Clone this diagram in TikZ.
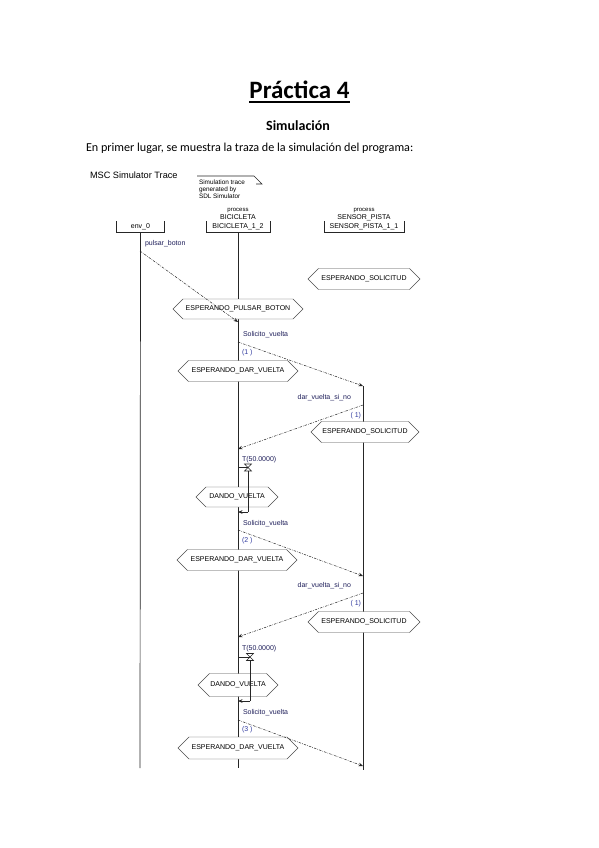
\documentclass[tikz,border=0pt]{standalone}
\usepackage{fontspec}
\setmainfont{Carlito}
\newfontfamily\mscfont{Liberation Sans}
\usetikzlibrary{arrows.meta,shapes.symbols}
\definecolor{lblcol}{RGB}{30,30,90}
\definecolor{seqcol}{RGB}{50,60,160}
\begin{document}
\begin{tikzpicture}[x=1pt,y=-1pt,
  every node/.style={inner sep=0pt,outer sep=0pt},
  mtxt/.style={font=\mscfont\fontsize{7}{8}\selectfont},
  lbl/.style={mtxt,text=lblcol},
  seq/.style={mtxt,text=seqcol},
  life/.style={line width=0.7pt,draw=black!85},
  hdr/.style={line width=0.7pt,draw=black!85},
  msg/.style={line width=0.5pt,draw=black!85,dash pattern=on 2.4pt off 1.2pt on 0.6pt off 1.2pt,-{Stealth[length=4.5pt,width=3.6pt]}},
  tmr/.style={line width=0.6pt,draw=black!85},
  tmrarrow/.style={line width=0.6pt,draw=black!85,-{Stealth[length=4.5pt,width=3.6pt]}},
  statebox/.style={signal,signal to=west and east,signal pointer angle=90,draw=black!70,line width=0.45pt,fill=white,mtxt,minimum height=21pt},
  hbox/.style={mtxt,minimum height=11pt}
]
\useasboundingbox[fill=white] (0,0) rectangle (599,848);

% ---------- document text ----------
\node[anchor=base,font=\bfseries\fontsize{25}{30}\selectfont] (title) at (299.5,99) {Práctica 4};
\draw[line width=1.6pt] ([yshift=-3pt]title.base west) -- ([yshift=-3pt]title.base east);
\node[anchor=base,font=\bfseries\fontsize{14}{17}\selectfont] (sub) at (298,131) {Simulación};
\node[anchor=base west,font=\fontsize{12.15}{15}\selectfont] (intro) at (86,151.5) {En primer lugar, se muestra la traza de la simulación del programa:};

% ---------- MSC header ----------
\node[anchor=base west,font=\mscfont\fontsize{9.2}{11}\selectfont] (msctitle) at (90,178) {MSC Simulator Trace};

\node[anchor=base west,font=\mscfont\fontsize{6.4}{7}\selectfont] (c1) at (199,184) {Simulation trace};
\node[anchor=base west,font=\mscfont\fontsize{6.4}{7}\selectfont] (c2) at (199,191) {generated by};
\node[anchor=base west,font=\mscfont\fontsize{6.4}{7}\selectfont] (c3) at (199,198.5) {SDL Simulator};
\coordinate (ctl) at (197,176);
\coordinate (ctr) at (254,176);
\coordinate (cc) at (262,184);
\coordinate (cc2) at (256,184);
\draw[line width=0.6pt,black!85] (ctl) -- (ctr) -- (cc) -- (cc2);

% instance heads
\node[hbox,minimum width=48pt] (envh) at (140.5,226.5) {env\_0};
\draw[hdr] (envh.north west) -- (envh.south west) -- (envh.south east) -- (envh.north east);

\node[font=\mscfont\fontsize{6}{7}\selectfont] (bp) at (238,210.5) {process};
\node[mtxt] (bn) at (238,217.5) {BICICLETA};
\node[hbox,minimum width=64pt] (bich) at (238,226.5) {BICICLETA\_1\_2};
\draw[hdr] (bich.north west) -- (bich.south west) -- (bich.south east) -- (bich.north east);

\node[font=\mscfont\fontsize{6}{7}\selectfont] (sp) at (364,210.5) {process};
\node[mtxt] (sn) at (364,217.5) {SENSOR\_PISTA};
\node[hbox,minimum width=80pt] (senh) at (364,226.5) {SENSOR\_PISTA\_1\_1};
\draw[hdr] (senh.north west) -- (senh.south west) -- (senh.south east) -- (senh.north east);

% lifeline ends
\coordinate (envend) at (140,768);
\coordinate (biend) at (238,768);
\coordinate (senstart) at (363,386);
\coordinate (senend) at (363,770);

\draw[life] (envh.south) -- (envend);
\draw[life] (bich.south) -- (biend);
\draw[life] (senstart) -- (senend);

% ---------- states ----------
\node[statebox,minimum width=112pt] (s1) at (364,279) {ESPERANDO\_SOLICITUD};
\node[statebox,minimum width=130pt,minimum height=20pt] (s2) at (238,309) {ESPERANDO\_PULSAR\_BOTON};
\node[statebox,minimum width=120pt] (s3) at (238,371) {ESPERANDO\_DAR\_VUELTA};
\node[statebox,minimum width=108pt] (s4) at (365,432) {ESPERANDO\_SOLICITUD};
\node[statebox,minimum width=82pt,minimum height=20pt] (s5) at (237,497) {DANDO\_VUELTA};
\node[statebox,minimum width=120pt] (s6) at (237,560) {ESPERANDO\_DAR\_VUELTA};
\node[statebox,minimum width=112pt] (s7) at (364,622) {ESPERANDO\_SOLICITUD};
\node[statebox,minimum width=80pt,minimum height=23pt] (s8) at (238,685) {DANDO\_VUELTA};
\node[statebox,minimum width=120pt,minimum height=22pt] (s9) at (238,748) {ESPERANDO\_DAR\_VUELTA};

% ---------- message points ----------
\coordinate (m1a) at (140,251);   \coordinate (m1b) at (238,322);
\coordinate (m2a) at (238,342);   \coordinate (m2b) at (363,386);
\coordinate (m3a) at (363,405);   \coordinate (m3b) at (238,449);
\coordinate (m4a) at (238,530);   \coordinate (m4b) at (363,576);
\coordinate (m5a) at (363,593);   \coordinate (m5b) at (238,637);
\coordinate (m6a) at (238,720);   \coordinate (m6b) at (363,766);

\draw[msg] (m1a) -- (m1b);
\draw[msg] (m2a) -- (m2b);
\draw[msg] (m3a) -- (m3b);
\draw[msg] (m4a) -- (m4b);
\draw[msg] (m5a) -- (m5b);
\draw[msg] (m6a) -- (m6b);

% labels
\node[lbl,anchor=base west] (l1) at (145,245.5) {pulsar\_boton};
\node[lbl,anchor=base west] (l2) at (243,336) {Solicito\_vuelta};
\node[seq,anchor=base west] (q2) at (242,354) {(1 )};
\node[lbl,anchor=base east] (l3) at (351,399.5) {dar\_vuelta\_si\_no};
\node[seq,anchor=base east] (q3) at (361,417.5) {( 1)};
\node[lbl,anchor=base west] (l4) at (243,525.5) {Solicito\_vuelta};
\node[seq,anchor=base west] (q4) at (242,542) {(2 )};
\node[lbl,anchor=base east] (l5) at (351,587.5) {dar\_vuelta\_si\_no};
\node[seq,anchor=base east] (q5) at (361,605.5) {( 1)};
\node[lbl,anchor=base west] (l6) at (243,714.5) {Solicito\_vuelta};
\node[seq,anchor=base west] (q6) at (242,731) {(3 )};

% ---------- timers ----------
\node[lbl,anchor=base west] (t1l) at (242,461.5) {T(50.0000)};
\coordinate (t1) at (248,467.5);
\coordinate (t1on) at (238,467.5);
\coordinate (t1b) at (248,512);
\coordinate (t1c) at (238,512);
\draw[tmr] (t1on) -- (t1);
\draw[tmr] ([shift={(-3.5,-3.5)}]t1) -- ([shift={(3.5,-3.5)}]t1) -- ([shift={(-3.5,3.5)}]t1) -- ([shift={(3.5,3.5)}]t1) -- cycle;
\draw[tmr] ([yshift=-3.5pt]t1) -- (t1b);
\draw[tmrarrow] (t1b) -- (t1c);

\node[lbl,anchor=base west] (t2l) at (242,650.5) {T(50.0000)};
\coordinate (t2) at (250,657);
\coordinate (t2on) at (238,657);
\coordinate (t2b) at (250,701);
\coordinate (t2c) at (238,701);
\draw[tmr] (t2on) -- (t2);
\draw[tmr] ([shift={(-3.5,-3.5)}]t2) -- ([shift={(3.5,-3.5)}]t2) -- ([shift={(-3.5,3.5)}]t2) -- ([shift={(3.5,3.5)}]t2) -- cycle;
\draw[tmr] ([yshift=-3.5pt]t2) -- (t2b);
\draw[tmrarrow] (t2b) -- (t2c);
\end{tikzpicture}
\end{document}
